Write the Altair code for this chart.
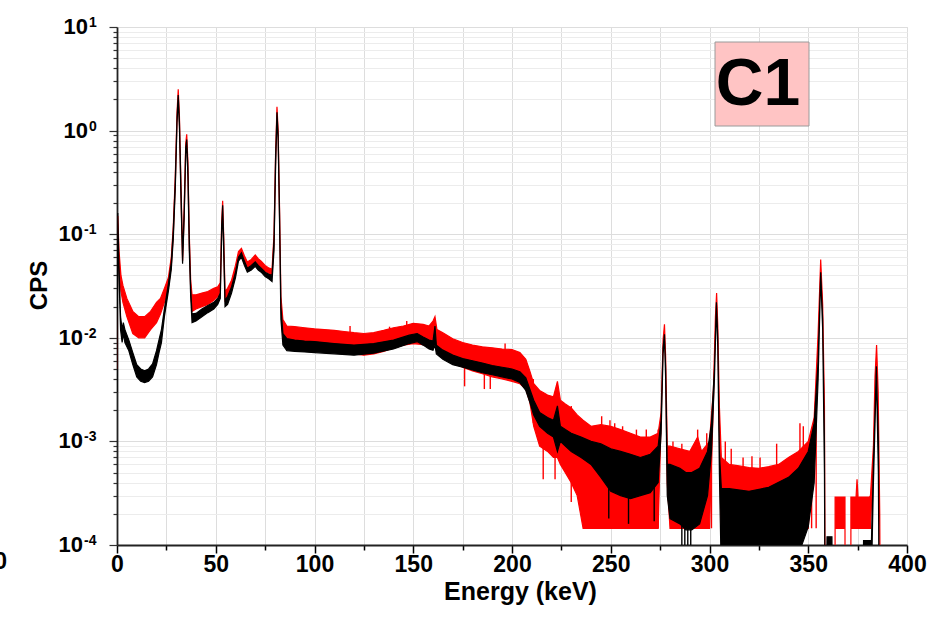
import altair as alt
import pandas as pd

# ---- red spectrum (envelope of the noisy trace), energy in keV, CPS ----
red_e = [0.0, 0.4, 1.0, 2.0, 3.0, 5.0, 8.0, 11.0, 14.0, 17.0, 20.0, 22.0, 24.0, 26.0,
         27.5, 28.5, 29.5, 30.4, 31.0, 31.6, 32.4, 33.2, 34.0, 34.8, 35.3, 35.9, 36.6, 37.3,
         38.0, 40.0, 43.0, 46.0, 49.0, 51.0, 52.3, 53.0, 53.5, 54.0, 54.7, 56.0, 58.0, 60.0,
         61.5, 63.0, 64.5, 66.0, 68.0, 70.0, 71.5, 73.0, 75.0, 77.0, 78.5, 79.5, 80.3, 81.0,
         81.6, 82.3, 83.0, 84.0, 86.0, 90.0, 95.0, 100.0, 105.0, 110.0, 115.0, 120.0, 125.0,
         130.0, 135.0, 140.0, 145.0, 150.0, 155.0, 158.0, 160.0, 161.0, 162.0, 165.0, 170.0,
         175.0, 180.0, 185.0, 190.0, 195.0, 200.0, 204.0, 207.0, 209.0, 211.0, 214.0, 218.0,
         221.0, 223.0, 224.5, 227.0, 230.0, 233.0, 236.0, 240.0, 245.0, 250.0, 255.0, 260.0,
         265.0, 270.0, 274.0, 275.5, 276.5, 277.2, 277.8, 278.6, 280.0, 285.0, 290.0, 294.0,
         296.0, 300.0, 302.0, 303.0, 303.6, 304.2, 305.0, 306.0, 310.0, 315.0, 320.0, 325.0,
         330.0, 335.0, 340.0, 345.0, 350.0, 353.0, 355.0, 356.3, 357.3, 358.2, 358.8, 363.5,
         363.6, 368.6, 368.7, 371.5, 371.6, 374.2, 374.7, 375.2, 381.0, 381.5, 383.0, 383.8,
         384.6, 385.4, 386.2, 386.8, 400.0]
red_lo = [0.005, 0.12, 0.05, 0.028, 0.022, 0.016, 0.011, 0.010, 0.010, 0.012, 0.014, 0.017, 0.022, 0.030,
          0.05, 0.10, 0.30, 1.3, 2.3, 1.2, 0.25, 0.055, 0.15, 0.65, 0.85, 0.4, 0.08, 0.03,
          0.018, 0.019, 0.020, 0.021, 0.023, 0.025, 0.028, 0.11, 0.19, 0.08, 0.023, 0.025, 0.030, 0.042,
          0.060, 0.066, 0.055, 0.047, 0.050, 0.054, 0.050, 0.048, 0.044, 0.042, 0.040, 0.08, 0.5, 1.5,
          0.9, 0.15, 0.02, 0.011, 0.009, 0.0085, 0.0082, 0.0078, 0.0076, 0.0074, 0.0072, 0.0070, 0.0068,
          0.0070, 0.0074, 0.0080, 0.0085, 0.0088, 0.0086, 0.0082, 0.0090, 0.011, 0.0075, 0.0068, 0.0058,
          0.0052, 0.0048, 0.0045, 0.0042, 0.0040, 0.0038, 0.0036, 0.0032, 0.0024, 0.0014, 0.0009, 0.0008,
          0.0007, 0.0007, 0.0006, 0.0005, 0.0004, 0.0003, 0.000145, 0.000145, 0.000145, 0.000145, 0.000145, 0.000145,
          0.000145, 0.000145, 0.000145, 0.0016, 0.0085, 0.0125, 0.0055, 0.0004, 0.000145, 0.000145, 0.000145, 0.000145,
          0.000145, 0.000145, 0.0025, 0.014, 0.025, 0.011, 0.0015, 0.000145, 0.000145, 0.000145, 0.000145, 0.000145,
          0.000145, 0.000145, 0.000145, 0.000145, 0.000145, 0.0014, 0.009, 0.053, 0.018, 0.0018, 0.000001, 0.000001,
          0.000145, 0.000145, 0.000001, 0.000001, 0.000145, 0.000145, 0.000145, 0.000145, 0.000145, 0.000145, 0.0007, 0.0035,
          0.0078, 0.0025, 0.00015, 0.000001, 0.000001]
red_hi = [0.008, 0.15, 0.07, 0.040, 0.032, 0.024, 0.018, 0.016, 0.016, 0.018, 0.022, 0.024, 0.030, 0.038,
          0.06, 0.12, 0.36, 1.5, 2.5, 1.4, 0.30, 0.065, 0.18, 0.75, 0.92, 0.5, 0.10, 0.036,
          0.026, 0.026, 0.027, 0.028, 0.030, 0.031, 0.034, 0.13, 0.21, 0.10, 0.028, 0.030, 0.036, 0.050,
          0.068, 0.073, 0.062, 0.054, 0.057, 0.063, 0.058, 0.055, 0.050, 0.047, 0.046, 0.10, 0.6, 1.7,
          1.0, 0.18, 0.025, 0.015, 0.013, 0.0128, 0.0125, 0.0122, 0.0120, 0.0118, 0.0115, 0.0112, 0.0110,
          0.0112, 0.0118, 0.0125, 0.0130, 0.0138, 0.0135, 0.0130, 0.0145, 0.016, 0.0120, 0.0112, 0.0098,
          0.0090, 0.0085, 0.0082, 0.0080, 0.0078, 0.0077, 0.0072, 0.0062, 0.0048, 0.0036, 0.0031, 0.0028,
          0.0027, 0.0038, 0.0025, 0.0023, 0.0021, 0.0018, 0.0016, 0.0014, 0.00145, 0.0014, 0.0013, 0.0012,
          0.0011, 0.0011, 0.0012, 0.0019, 0.0095, 0.0135, 0.0065, 0.0009, 0.0009, 0.00085, 0.0008, 0.0011,
          0.0008, 0.0010, 0.0032, 0.016, 0.027, 0.013, 0.0022, 0.0007, 0.0006, 0.00058, 0.00056, 0.00055,
          0.00057, 0.0006, 0.0007, 0.0008, 0.0010, 0.0017, 0.011, 0.057, 0.021, 0.0022, 0.000001, 0.000001,
          0.00029, 0.00029, 0.000001, 0.000001, 0.00029, 0.00029, 0.00043, 0.00029, 0.00029, 0.0003, 0.0009, 0.0042,
          0.0085, 0.003, 0.0002, 0.000001, 0.000001]

# isolated red noise spikes (energy, bottom, top)
spk_e = [118.0, 138.0, 146.7, 176.0, 186.0, 189.0, 196.5, 210.8, 215.8, 221.8, 230.0,
         245.4, 249.6, 252.0, 256.0, 263.0, 268.0, 274.0, 281.5, 286.0, 294.0, 298.6, 301.0,
         308.0, 311.0, 317.0, 321.5, 325.6, 334.0, 345.8, 347.5, 351.7, 354.0]
spk_lo = [0.0100, 0.0100, 0.0110, 0.0034, 0.0032, 0.0032, 0.0060, 0.0015, 0.00043, 0.00043, 0.00026,
          0.000145, 0.000145, 0.000145, 0.000145, 0.000145, 0.000145, 0.000145, 0.000145, 0.000145, 0.000145, 0.000145, 0.000145,
          0.000145, 0.000145, 0.000145, 0.000145, 0.000145, 0.000145, 0.000145, 0.000145, 0.000145, 0.000145]
spk_hi = [0.0130, 0.0128, 0.0145, 0.0070, 0.0065, 0.0064, 0.0088, 0.0040, 0.0030, 0.0028, 0.0022,
          0.00175, 0.0016, 0.0015, 0.0014, 0.0013, 0.0013, 0.0013, 0.0010, 0.00095, 0.0013, 0.0012, 0.0014,
          0.0010, 0.00085, 0.0007, 0.00072, 0.0007, 0.00095, 0.0015, 0.0014, 0.0011, 0.0016]

# ---- black spectrum ----
blk_e = [0.0, 0.4, 1.0, 1.8, 2.6, 3.2, 4.0, 6.0, 8.0, 10.0, 12.0, 14.0, 16.0, 18.0, 20.0, 21.5, 22.5,
         24.0, 26.0, 27.5, 28.5, 29.5, 30.4, 31.0, 31.6, 32.4, 33.2, 34.0, 34.8, 35.3, 35.9, 36.6, 37.3,
         38.0, 40.0, 43.0, 46.0, 49.0, 51.0, 52.3, 53.0, 53.5, 54.0, 54.7, 56.0, 58.0, 60.0, 61.5, 63.0,
         64.5, 66.0, 68.0, 70.0, 71.5, 73.0, 75.0, 77.0, 78.5, 79.5, 80.3, 81.0, 81.6, 82.3, 83.0, 84.0,
         86.0, 90.0, 95.0, 100.0, 110.0, 120.0, 130.0, 140.0, 148.0, 152.0, 155.0, 158.0, 160.0, 161.0,
         161.7, 165.0, 170.0, 175.0, 180.0, 185.0, 190.0, 195.0, 200.0, 204.0, 207.0, 209.0, 211.0, 214.0,
         218.0, 221.0, 223.0, 224.5, 227.0, 230.0, 235.0, 240.0, 245.0, 250.0, 255.0, 260.0, 265.0, 270.0,
         274.0, 275.5, 276.5, 277.2, 277.8, 278.6, 280.0, 285.0, 288.0, 291.0, 295.0, 299.0, 301.0, 302.5,
         303.5, 304.2, 305.0, 306.0, 310.0, 320.0, 330.0, 340.0, 345.0, 350.0, 353.0, 355.0, 356.3, 357.3,
         358.2, 358.8, 359.5, 362.0, 362.5, 377.0, 378.0, 382.0, 383.0, 384.5, 385.5, 386.3, 400.0]
blk_lo = [0.003, 0.13, 0.04, 0.012, 0.009, 0.011, 0.009, 0.0075, 0.0055, 0.0042, 0.0038, 0.0037, 0.0038, 0.0042, 0.0055, 0.0075, 0.009,
          0.016, 0.028, 0.046, 0.09, 0.27, 1.2, 2.0, 1.1, 0.22, 0.052, 0.14, 0.60, 0.75, 0.36, 0.07, 0.025,
          0.014, 0.0145, 0.016, 0.0175, 0.019, 0.021, 0.024, 0.10, 0.17, 0.07, 0.020, 0.021, 0.027, 0.038, 0.055, 0.060,
          0.050, 0.043, 0.045, 0.049, 0.045, 0.043, 0.039, 0.037, 0.035, 0.07, 0.45, 1.35, 0.80, 0.13, 0.015, 0.0085,
          0.0075, 0.0074, 0.0073, 0.0072, 0.0070, 0.0068, 0.0071, 0.0078, 0.0088, 0.0092, 0.0085, 0.0078, 0.0076, 0.0085,
          0.0070, 0.0062, 0.0055, 0.0052, 0.0049, 0.0046, 0.0044, 0.0042, 0.0040, 0.0037, 0.0031, 0.0024, 0.0018, 0.0014,
          0.0012, 0.0011, 0.0008, 0.0010, 0.0009, 0.0008, 0.0007, 0.0006, 0.00045, 0.00033, 0.0003, 0.00028, 0.0003, 0.00032,
          0.0004, 0.0012, 0.007, 0.0100, 0.004, 0.0003, 0.00018, 0.00016, 0.00014, 0.00014, 0.00016, 0.0003, 0.0008, 0.004,
          0.020, 0.008, 0.0005, 0.00005, 0.00005, 0.00005, 0.00005, 0.00005, 0.00008, 0.00015, 0.0004, 0.004, 0.040, 0.012,
          0.0005, 0.000001, 0.00005, 0.00005, 0.000001, 0.000001, 0.00005, 0.00005, 0.0004, 0.0045, 0.0005, 0.000001, 0.000001]
blk_hi = [0.004, 0.16, 0.05, 0.016, 0.012, 0.014, 0.012, 0.0095, 0.0072, 0.0055, 0.0050, 0.0048, 0.0050, 0.0056, 0.0075, 0.010, 0.012,
          0.019, 0.033, 0.054, 0.11, 0.32, 1.35, 2.2, 1.25, 0.27, 0.060, 0.16, 0.68, 0.82, 0.44, 0.09, 0.030,
          0.017, 0.0172, 0.019, 0.0205, 0.022, 0.024, 0.027, 0.12, 0.19, 0.09, 0.023, 0.025, 0.031, 0.043, 0.060, 0.066,
          0.055, 0.047, 0.050, 0.054, 0.050, 0.047, 0.043, 0.041, 0.040, 0.09, 0.55, 1.5, 0.90, 0.16, 0.020, 0.011,
          0.0098, 0.0095, 0.0093, 0.0092, 0.0088, 0.0085, 0.0088, 0.0095, 0.0106, 0.0110, 0.0102, 0.0095, 0.0093, 0.013,
          0.0085, 0.0076, 0.0068, 0.0063, 0.0060, 0.0057, 0.0054, 0.0052, 0.0050, 0.0047, 0.0041, 0.0032, 0.0025, 0.0019,
          0.0017, 0.0016, 0.0022, 0.0014, 0.0013, 0.0012, 0.0011, 0.0010, 0.00095, 0.00085, 0.0008, 0.00075, 0.0007, 0.00075,
          0.0009, 0.0016, 0.008, 0.0108, 0.005, 0.0006, 0.0006, 0.00055, 0.0005, 0.0005, 0.00055, 0.0008, 0.0015, 0.005,
          0.022, 0.010, 0.0008, 0.00035, 0.00035, 0.00033, 0.00036, 0.00045, 0.00055, 0.0008, 0.0015, 0.006, 0.043, 0.015,
          0.0010, 0.000001, 0.00012, 0.00012, 0.000001, 0.000001, 0.00011, 0.00011, 0.0006, 0.0053, 0.0010, 0.000001, 0.000001]

# isolated black noise spikes reaching below the axis
bspk_e = [249.0, 259.0, 272.0, 286.0, 287.5, 289.0, 290.5]
bspk_lo = [0.00018, 0.00016, 0.00017, 0.00005, 0.00005, 0.00005, 0.00005]
bspk_hi = [0.0005, 0.0005, 0.0005, 0.0003, 0.0003, 0.0003, 0.0003]

# ---- axes ----
x_ticks = [0, 25, 50, 75, 100, 125, 150, 175, 200, 225, 250, 275, 300, 325, 350, 375, 400]
y_ticks = [0.0001, 0.0002, 0.0003, 0.0004, 0.0005, 0.0006, 0.0007, 0.0008, 0.0009,
           0.001, 0.002, 0.003, 0.004, 0.005, 0.006, 0.007, 0.008, 0.009,
           0.01, 0.02, 0.03, 0.04, 0.05, 0.06, 0.07, 0.08, 0.09,
           0.1, 0.2, 0.3, 0.4, 0.5, 0.6, 0.7, 0.8, 0.9,
           1, 2, 3, 4, 5, 6, 7, 8, 9, 10]
decade_vals = [0.0001, 0.001, 0.01, 0.1, 1, 10]
decade_exps = ["-4", "-3", "-2", "-1", "0", "1"]

is_decade = "abs(log(datum.value)/LN10 - round(log(datum.value)/LN10)) < 0.000001"
FONT = "Liberation Sans"

xscale = alt.Scale(domain=[0, 400], nice=False, zero=False)
yscale = alt.Scale(type="log", domain=[0.0001, 10], nice=False)

x_axis = alt.Axis(
    values=x_ticks, title="Energy (keV)",
    labelExpr="datum.value % 50 == 0 ? datum.value : ''",
    labelFont=FONT, labelFontSize=23, labelFontWeight="bold", labelColor="black",
    labelPadding=0, labelFlush=False, labelOverlap=False,
    tickSize={"condition": {"test": "datum.value % 50 == 0", "value": 8}, "value": 5},
    tickColor="black", tickWidth=1.5,
    domainColor="#222", domainWidth=1.8,
    grid=True, gridColor="#dddddd", gridWidth=1,
    titleFont=FONT, titleFontSize=25, titleFontWeight="bold", titleColor="black",
    titleX=403, titleY=46, titleBaseline="middle", titleAnchor="middle",
)
y_axis = alt.Axis(
    values=y_ticks, title="CPS", labels=False,
    tickSize={"condition": {"test": is_decade, "value": 8}, "value": 4},
    tickColor="#333", tickWidth=1.2,
    domainColor="#222", domainWidth=1.8,
    grid=True,
    gridColor={"condition": {"test": is_decade, "value": "#dddddd"}, "value": "#ececec"},
    gridWidth=1,
    titleFont=FONT, titleFontSize=24, titleFontWeight="bold", titleColor="black",
    titleX=-78, titleY=258, titleAngle=-90, titleBaseline="middle", titleAlign="center",
)

red_df = pd.DataFrame({"e": red_e, "lo": red_lo, "hi": red_hi})
blk_df = pd.DataFrame({"e": blk_e, "lo": blk_lo, "hi": blk_hi})
spk_df = pd.DataFrame({"e": spk_e, "lo": spk_lo, "hi": spk_hi})
bspk_df = pd.DataFrame({"e": bspk_e, "lo": bspk_lo, "hi": bspk_hi})
lab_df = pd.DataFrame({"v": decade_vals, "exp": decade_exps})

red = alt.Chart(red_df).mark_area(
    color="#ff0000", stroke="#ff0000", strokeWidth=1.2, opacity=1, clip=True
).encode(
    x=alt.X("e:Q", scale=xscale, axis=x_axis),
    y=alt.Y("lo:Q", scale=yscale, axis=y_axis),
    y2="hi:Q",
)
red_spk = alt.Chart(spk_df).mark_rule(color="#ff0000", strokeWidth=1.4, clip=True).encode(
    x=alt.X("e:Q", scale=xscale, axis=x_axis), y=alt.Y("lo:Q", scale=yscale, axis=y_axis), y2="hi:Q"
)
blk = alt.Chart(blk_df).mark_area(
    color="#000000", stroke="#000000", strokeWidth=1.2, opacity=1, clip=True
).encode(
    x=alt.X("e:Q", scale=xscale, axis=x_axis),
    y=alt.Y("lo:Q", scale=yscale, axis=y_axis),
    y2="hi:Q",
)
blk_spk = alt.Chart(bspk_df).mark_rule(color="#000000", strokeWidth=1.4, clip=True).encode(
    x=alt.X("e:Q", scale=xscale, axis=x_axis), y=alt.Y("lo:Q", scale=yscale, axis=y_axis), y2="hi:Q"
)

# y tick labels: "10" with a superscript exponent
lab_base = alt.Chart(lab_df).transform_calculate(
    bx="indexof(datum.exp, '-') == 0 ? -34 : -29"
).mark_text(
    font=FONT, fontSize=22, fontWeight="bold", color="black", align="right", baseline="middle"
).encode(
    x=alt.X("bx:Q", scale=None),
    y=alt.Y("v:Q", scale=yscale, axis=y_axis),
    text=alt.value("10"),
)
lab_exp = alt.Chart(lab_df).transform_calculate(
    bx="indexof(datum.exp, '-') == 0 ? -33 : -28"
).mark_text(
    font=FONT, fontSize=14, fontWeight="bold", color="black", align="left", baseline="top", dy=-11
).encode(
    x=alt.X("bx:Q", scale=None),
    y=alt.Y("v:Q", scale=yscale, axis=y_axis),
    text="exp:N",
)

one = alt.Data(values=[{"k": 1}])
box = alt.Chart(one).mark_rect(fill="#ffc4c4", stroke="#9a9a9a", strokeWidth=1).encode(
    x=alt.value(598), x2=alt.value(692), y=alt.value(15), y2=alt.value(99)
)
box_text = alt.Chart(one).mark_text(
    font=FONT, fontSize=66, fontWeight="bold", color="black", align="center", baseline="middle"
).encode(x=alt.value(641), y=alt.value(58), text=alt.value("C1"))

stray = alt.Chart(one).mark_text(
    font=FONT, fontSize=23, fontWeight="bold", color="black", align="right", baseline="middle"
).encode(x=alt.value(-110), y=alt.value(535), text=alt.value("0"))

chart = alt.layer(red, red_spk, blk, blk_spk, lab_base, lab_exp, box, box_text, stray).properties(
    width=790, height=518,
    autosize=alt.AutoSizeParams(type="none"),
    padding={"left": 117, "top": 27, "right": 21, "bottom": 83},
).configure_view(stroke=None).configure(background="white")

chart.save("out.html", embed_options={"renderer": "svg", "actions": False})
